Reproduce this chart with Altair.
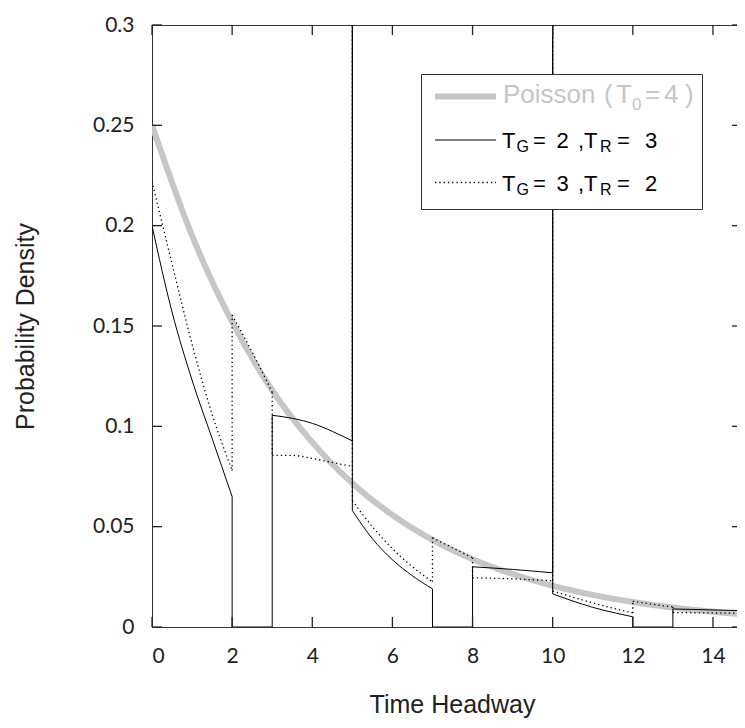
import altair as alt
import pandas as pd

# Poisson headway density (T0 = 4)
poisson_t = list(range(16))
poisson_p = [0.250, 0.195, 0.152, 0.118, 0.092, 0.0716, 0.0558, 0.0434,
             0.0338, 0.0264, 0.0205, 0.0160, 0.0125, 0.0097, 0.0076, 0.0059]

# TG = 2, TR = 3 (solid line): smooth pieces, joined by vertical jumps
solid_pieces = [
    ([0, 0.5, 1, 1.5, 2], [0.200, 0.157, 0.123, 0.094, 0.065]),
    ([2, 3], [0, 0]),
    ([3, 3.5, 4, 4.5, 5], [0.1055, 0.104, 0.1015, 0.0975, 0.0927]),
    ([5, 5.5, 6, 6.5, 7], [0.058, 0.044, 0.0335, 0.0255, 0.019]),
    ([7, 8], [0, 0]),
    ([8, 9, 10], [0.030, 0.0287, 0.027]),
    ([10, 11, 12], [0.0165, 0.0098, 0.0051]),
    ([12, 13], [0, 0]),
    ([13, 14, 15], [0.009, 0.0085, 0.008]),
]
# TG = 3, TR = 2 (dotted line)
dotted_pieces = [
    ([0, 0.5, 1, 1.5, 2], [0.222, 0.181, 0.141, 0.106, 0.078]),
    ([2, 2.5, 3], [0.1555, 0.137, 0.117]),
    ([3, 3.5, 4, 4.5, 5], [0.0855, 0.0855, 0.084, 0.082, 0.080]),
    ([5, 5.5, 6, 6.5, 7], [0.063, 0.050, 0.039, 0.030, 0.0225]),
    ([7, 7.5, 8], [0.0445, 0.0395, 0.0345]),
    ([8, 9, 10], [0.0245, 0.024, 0.023]),
    ([10, 11, 12], [0.018, 0.012, 0.007]),
    ([12, 12.5, 13], [0.0128, 0.0113, 0.0100]),
    ([13, 14, 15], [0.0072, 0.0070, 0.0068]),
]
# impulses at the end of each red phase (run off the top of the plot)
impulse_t = [5, 10]
impulse_top = 0.3

x_ticks = [0, 2, 4, 6, 8, 10, 12, 14]
y_ticks = [0, 0.05, 0.1, 0.15, 0.2, 0.25, 0.3]


def build(pieces):
    curves, jumps = [], []
    for k, (ts, ps) in enumerate(pieces):
        curves += [{"t": t, "p": p, "seg": k} for t, p in zip(ts, ps)]
        if k + 1 < len(pieces):
            t_end, p_end = ts[-1], ps[-1]
            p_next = pieces[k + 1][1][0]
            path = [p_end, p_next]
            if t_end in impulse_t:
                path = [p_end, impulse_top, p_next]
            jumps += [{"t": t_end, "p": p, "seg": k, "i": j} for j, p in enumerate(path)]
    return pd.DataFrame(curves), pd.DataFrame(jumps)


solid_curves, solid_jumps = build(solid_pieces)
dotted_curves, dotted_jumps = build(dotted_pieces)
poisson = pd.DataFrame({"t": poisson_t, "p": poisson_p})
xt = pd.DataFrame({"xv": x_ticks})
yt = pd.DataFrame({"yv": y_ticks})
one = pd.DataFrame({"k": [0]})

W, H = 585, 602
xs = alt.Scale(domain=[0, 14.6], nice=False, zero=False)
ys = alt.Scale(domain=[0, 0.3], nice=False)
GREY = "#c6c6c6"
FRAME = "#333"
FONT = "Liberation Sans"
NUM_FONT = "Lato"

bottom_axis = alt.Axis(values=x_ticks, orient="bottom", ticks=False,
                       domainColor=FRAME, labelPadding=18, labelFont=NUM_FONT,
                       labelFontSize=21, title="Time Headway", titleFont=FONT,
                       titleFontSize=25, titleFontWeight="normal",
                       titleX=300, titleY=85, titleBaseline="alphabetic")
left_axis = alt.Axis(values=y_ticks, orient="left", ticks=False,
                     domainColor=FRAME, labelPadding=18, labelFont=NUM_FONT,
                     labelFontSize=21, format="~g", title="Probability Density",
                     titleFont=FONT, titleFontSize=25, titleFontWeight="normal",
                     titleAngle=270, titleX=-127, titleBaseline="middle")
top_axis = alt.Axis(orient="top", ticks=False, labels=False, domainColor=FRAME,
                    title=None)

poisson_line = alt.Chart(poisson).mark_line(
    color=GREY, strokeWidth=6, interpolate="monotone", clip=True
).encode(
    x=alt.X("t:Q", scale=xs, axis=bottom_axis),
    y=alt.Y("p:Q", scale=ys, axis=left_axis),
)


def series(curves, jumps, style, top=None):
    c = alt.Chart(curves).mark_line(interpolate="monotone", clip=True, **style).encode(
        x=alt.X("t:Q", scale=xs, axis=top),
        y=alt.Y("p:Q", scale=ys, axis=None),
        detail="seg:N",
    )
    j = alt.Chart(jumps).mark_line(clip=True, **style).encode(
        x=alt.X("t:Q", scale=xs, axis=None),
        y=alt.Y("p:Q", scale=ys, axis=None),
        detail="seg:N",
        order="i:Q",
    )
    return [c, j]


solid_style = dict(color="black", strokeWidth=1)
dotted_style = dict(color="black", strokeWidth=1.3, strokeDash=[1.3, 3])
solid_layers = series(solid_curves, solid_jumps, solid_style, top=top_axis)
dotted_layers = series(dotted_curves, dotted_jumps, dotted_style)

# inward ticks on all four sides
tick = dict(color="#222", strokeWidth=1.3)
ticks = [
    alt.Chart(xt).mark_rule(**tick).encode(
        x=alt.X("xv:Q", scale=xs, axis=None), y=alt.value(H), y2=alt.value(H - 10)),
    alt.Chart(xt).mark_rule(**tick).encode(
        x=alt.X("xv:Q", scale=xs, axis=None), y=alt.value(0), y2=alt.value(10)),
    alt.Chart(yt).mark_rule(**tick).encode(
        y=alt.Y("yv:Q", scale=ys, axis=None), x=alt.value(0), x2=alt.value(10)),
    alt.Chart(yt).mark_rule(**tick).encode(
        y=alt.Y("yv:Q", scale=ys, axis=None), x=alt.value(W), x2=alt.value(W - 5)),
]

# legend box drawn by hand (a Vega legend cannot show subscripts)
box = alt.Chart(one).mark_rect(fill="white", stroke=FRAME, strokeWidth=1).encode(
    x=alt.value(269.5), x2=alt.value(550.5), y=alt.value(49.5), y2=alt.value(184.5)
)
legend_layers = [box]
for style, y in ((dict(color=GREY, strokeWidth=6), 71.5),
                 (solid_style, 115), (dotted_style, 157.5)):
    legend_layers.append(
        alt.Chart(one).mark_rule(**style).encode(
            x=alt.value(283), x2=alt.value(344), y=alt.value(y)
        )
    )

# (text, x, baseline, size, colour)
pieces = [
    ("Poisson", 351, 77.5, 26, GREY), ("(", 452, 77.5, 26, GREY),
    ("T", 464, 77.5, 26, GREY), ("0", 480, 85, 17, GREY),
    ("=", 493, 77.5, 26, GREY), ("4", 512, 77.5, 26, GREY),
    (")", 533, 77.5, 26, GREY),
]
for base, vals in ((123.3, ("2", "3")), (165.8, ("3", "2"))):
    pieces += [
        ("T", 350, base, 22, "black"), ("G", 364.5, base + 4, 16, "black"),
        ("=", 381, base, 22, "black"), (vals[0], 404.5, base, 22, "black"),
        (",", 426, base, 22, "black"), ("T", 432, base, 22, "black"),
        ("R", 448, base + 4, 16, "black"), ("=", 465, base, 22, "black"),
        (vals[1], 493, base, 22, "black"),
    ]
for text, x, y, size, colour in pieces:
    legend_layers.append(
        alt.Chart(one).mark_text(
            text=text, align="left", baseline="alphabetic", font=FONT,
            fontSize=size, color=colour
        ).encode(x=alt.value(x), y=alt.value(y))
    )

chart = alt.layer(
    poisson_line, *solid_layers, *dotted_layers, *ticks, *legend_layers
).resolve_axis(
    x="independent", y="independent"
).properties(
    width=W, height=H,
    autosize=alt.AutoSizeParams(type="none"),
    padding={"left": 144, "top": 17, "right": 0, "bottom": 91},
).configure_view(
    stroke=None
).configure_axis(
    grid=False, domainWidth=1, labelColor="#222", titleColor="#222"
)

chart.save("out.html", embed_options={"renderer": "svg", "actions": False})
